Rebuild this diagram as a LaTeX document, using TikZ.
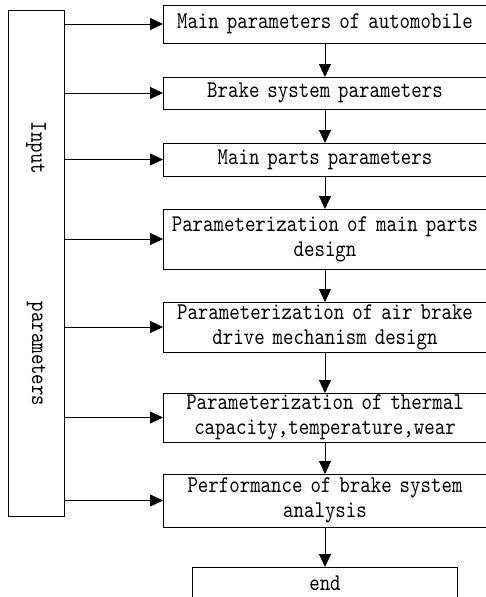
\documentclass[tikz,border=0pt]{standalone}
\usepackage{fontspec}
\setmonofont[FakeStretch=0.83]{lmmono10-regular.otf}
\usetikzlibrary{positioning,arrows.meta}

\begin{document}
\begin{tikzpicture}[x=1pt,y=1pt,->,>={Triangle[length=13pt,width=12pt]},
  line width=0.9pt,node distance=34pt,
  font=\ttfamily\fontsize{24}{25}\selectfont,
  step node/.style={rectangle,draw,minimum width=324pt,text width=322pt,
  align=center,inner sep=1pt,outer sep=0pt},
  end node/.style={rectangle,draw,minimum width=265pt,minimum height=32pt,
  outer sep=0pt},
  input node/.style={rectangle,draw,minimum width=56pt,minimum height=506pt,
  outer sep=0pt}]

  \useasboundingbox (0,0) rectangle (486,-597);

  \node[step node,minimum height=38pt] (m1) at (325,-24) {Main parameters of automobile};
  \node[step node,minimum height=32pt] (m2) [below=of m1] {Brake system parameters};
  \node[step node,minimum height=33pt] (m3) [below=of m2] {Main parts parameters};
  \node[step node,minimum height=60pt] (m4) [below=33pt of m3] {Parameterization of main parts\\design};
  \node[step node,minimum height=50pt] (m5) [below=33pt of m4] {Parameterization of air brake\\drive mechanism design};
  \node[step node,minimum height=49pt] (m6) [below=41pt of m5] {Parameterization of thermal\\capacity,temperature,wear};
  \node[step node,minimum height=53pt] (m7) [below=32pt of m6] {Performance of brake system\\analysis};
  \node[end node] (end) [below=40pt of m7] {end};

  \node[input node] (inp) at (36,-263) {};
  \node[rotate=-90] (in1) at (36,-148) {Input};
  \node[rotate=-90] (in2) at (36,-354) {parameters};

  \path
    % main chain
    (m1) edge (m2)
    (m2) edge (m3)
    (m3) edge (m4)
    (m4) edge (m5)
    (m5) edge (m6)
    (m6) edge (m7)
    (m7) edge (end);

  % input lines
  \draw (inp.east |- m1.west) -- (m1.west);
  \draw (inp.east |- m2.west) -- (m2.west);
  \draw (inp.east |- m3.west) -- (m3.west);
  \draw (inp.east |- m4.west) -- (m4.west);
  \draw (inp.east |- m5.west) -- (m5.west);
  \draw (inp.east |- m6.west) -- (m6.west);
  \draw (inp.east |- m7.west) -- (m7.west);

\end{tikzpicture}
\end{document}
